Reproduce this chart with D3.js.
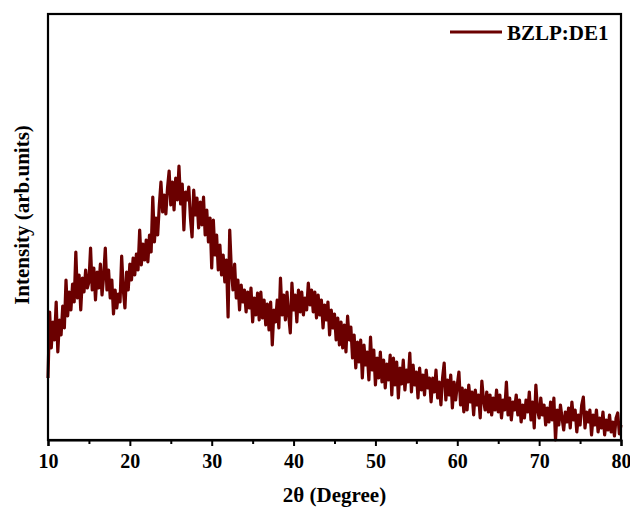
<!DOCTYPE html>
<html>
<head>
<meta charset="utf-8">
<script src="https://cdn.jsdelivr.net/npm/d3@7"></script>
<style>
  body { margin: 0; background: #fff; }
  text { font-family: "Liberation Serif", "Times New Roman", serif; font-weight: bold; }
</style>
</head>
<body>
<svg id="xrd"></svg>
<script>
// scan: 10 to 80 deg, 0.2 deg step
var scanStart = 10, scanEnd = 80, scanStep = 0.2;

// intensity, one row per degree (x.0, x.2, x.4, x.6, x.8)
var intensity = [
    62, 128, 92, 118, 100,      // 10
    138, 88, 120, 105, 134,     // 11
    112, 160, 124, 148, 130,    // 12
    156, 138, 188, 142, 165,    // 13
    130, 162, 148, 170, 152,    // 14
    158, 192, 150, 172, 140,    // 15
    168, 152, 176, 145, 164,    // 16
    192, 150, 170, 142, 160,    // 17
    126, 150, 132, 146, 138,    // 18
    184, 150, 132, 168, 150,    // 19
    176, 160, 182, 165, 186,    // 20
    170, 210, 175, 196, 180,    // 21
    200, 178, 205, 188, 243,    // 22
    198, 222, 205, 235, 258,    // 23
    228, 245, 226, 252, 269,    // 24
    235, 258, 230, 262, 240,    // 25
    274, 236, 256, 210, 248,    // 26
    240, 253, 222, 203, 250,    // 27
    225, 242, 212, 238, 215,    // 28
    243, 205, 230, 198, 222,    // 29
    172, 220, 185, 205, 170,    // 30
    195, 165, 185, 158, 180,    // 31
    123, 210, 170, 150, 176,    // 32
    142, 160, 130, 155, 138,    // 33
    150, 128, 148, 132, 152,    // 34
    118, 142, 125, 147, 120,    // 35
    148, 122, 140, 115, 136,    // 36
    110, 138, 95, 130, 118,     // 37
    140, 112, 162, 125, 145,    // 38
    120, 148, 125, 107, 157,    // 39
    130, 145, 118, 150, 128,    // 40
    148, 125, 142, 130, 157,    // 41
    135, 150, 128, 148, 122,    // 42
    145, 125, 140, 112, 135,    // 43
    120, 138, 105, 130, 112,    // 44
    126, 100, 122, 95, 118,     // 45
    92, 115, 88, 124, 100,      // 46
    113, 82, 105, 72, 98,       // 47
    78, 100, 62, 95, 75,        // 48
    88, 60, 103, 70, 90,        // 49
    55, 82, 62, 88, 58,         // 50
    80, 52, 76, 60, 85,         // 51
    45, 82, 55, 78, 42,         // 52
    72, 56, 80, 50, 70,         // 53
    58, 87, 48, 75, 55,         // 54
    68, 42, 72, 50, 65,         // 55
    45, 70, 52, 62, 38,         // 56
    62, 48, 70, 42, 58,         // 57
    35, 62, 77, 40, 60,         // 58
    45, 65, 32, 58, 40,         // 59
    55, 68, 35, 52, 28,         // 60
    50, 30, 55, 38, 48,         // 61
    25, 50, 35, 45, 22,         // 62
    59, 40, 30, 48, 28,         // 63
    45, 25, 42, 30, 50,         // 64
    28, 45, 22, 40, 30,         // 65
    58, 25, 42, 20, 38,         // 66
    30, 45, 25, 40, 18,         // 67
    35, 22, 40, 28, 48,         // 68
    20, 38, 12, 55, 30,         // 69
    22, 42, 25, 35, 15,         // 70
    32, 18, 38, 20, 42,         // 71
    0, 30, 15, 35, 22,          // 72
    10, 28, 18, 32, 12,         // 73
    38, 20, 30, 8, 25,          // 74
    15, 35, 43, 12, 28,         // 75
    18, 30, 5, 25, 15,          // 76
    30, 8, 22, 12, 28,          // 77
    5, 20, 10, 25, 8,           // 78
    18, 4, 22, 27, 6,           // 79
    15                          // 80
];

var xTicks = [10, 20, 30, 40, 50, 60, 70, 80];
var xMinorTicks = [15, 25, 35, 45, 55, 65, 75];
var seriesName = "BZLP:DE1";

var W = 630, H = 509;
var margin = { top: 14, right: 9, bottom: 69, left: 48 },
    width = W - margin.left - margin.right,
    height = H - margin.top - margin.bottom;
var lineColor = "#6b0000";

var angles = d3.range(intensity.length).map(function (i) {
    return +(scanStart + i * scanStep).toFixed(1);
});
var data = angles.map(function (a, i) { return { x: a, y: intensity[i] }; });

var svg = d3.select("#xrd")
    .attr("width", W)
    .attr("height", H);
var g = svg.append("g")
    .attr("transform", "translate(" + margin.left + "," + margin.top + ")");

var xScale = d3.scaleLinear().domain([scanStart, scanEnd]).range([0, width]);
var yScale = d3.scaleLinear().domain([0, 426]).range([height, 0]);

// trace
var line = d3.line()
    .x(function (d) { return xScale(d.x); })
    .y(function (d) { return yScale(d.y); });

g.append("path")
    .datum(data)
    .attr("fill", "none")
    .attr("stroke", lineColor)
    .attr("stroke-width", 3.2)
    .attr("stroke-linejoin", "round")
    .attr("d", line);

// frame
g.append("rect")
    .attr("width", width)
    .attr("height", height)
    .attr("fill", "none")
    .attr("stroke", "#000")
    .attr("stroke-width", 2.2);

// x axis
var xAxis = d3.axisBottom(xScale)
    .tickValues(xTicks)
    .tickSize(6)
    .tickPadding(8)
    .tickFormat(d3.format("d"));
var xg = g.append("g")
    .attr("transform", "translate(0," + height + ")")
    .call(xAxis);
xg.select(".domain").attr("stroke-width", 2.2);
xg.selectAll(".tick line").attr("stroke-width", 2);
xg.selectAll(".tick text")
    .style("font-size", "20px")
    .style("font-family", "'Liberation Serif', serif")
    .style("font-weight", "bold")
    .attr("fill", "#000");

var xMinor = d3.axisBottom(xScale)
    .tickValues(xMinorTicks)
    .tickSize(4)
    .tickFormat("");
var xm = g.append("g")
    .attr("transform", "translate(0," + height + ")")
    .call(xMinor);
xm.select(".domain").remove();
xm.selectAll(".tick line").attr("stroke-width", 2);

// axis titles
svg.append("text")
    .attr("x", margin.left + width / 2)
    .attr("y", 502)
    .attr("text-anchor", "middle")
    .style("font-size", "21px")
    .text("2\u03b8 (Degree)");

svg.append("text")
    .attr("transform", "translate(29," + (margin.top + height / 2 - 12) + ") rotate(-90)")
    .attr("text-anchor", "middle")
    .style("font-size", "21px")
    .text("Intensity (arb.units)");

// legend
var legend = svg.append("g");
legend.append("line")
    .attr("x1", 450).attr("x2", 502)
    .attr("y1", 32).attr("y2", 32)
    .attr("stroke", lineColor)
    .attr("stroke-width", 3);
legend.append("text")
    .attr("x", 507)
    .attr("y", 40)
    .style("font-size", "21px")
    .text(seriesName);
</script>
</body>
</html>
